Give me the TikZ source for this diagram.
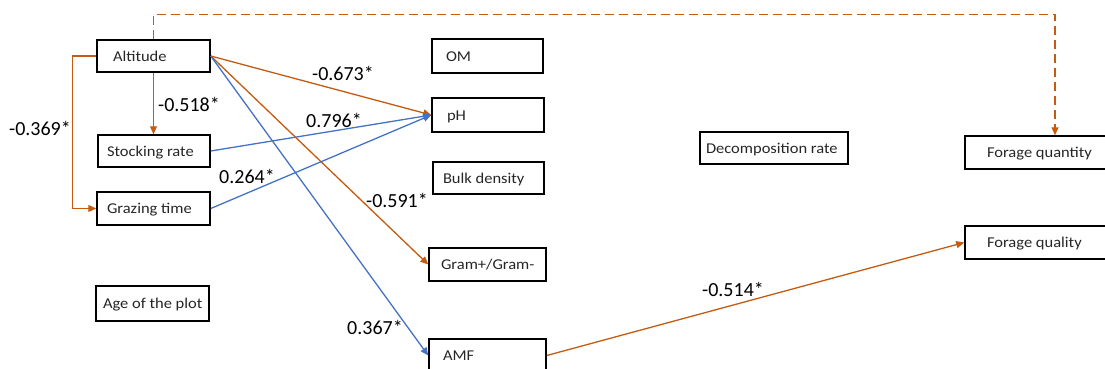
\documentclass[tikz,border=0pt]{standalone}
\usepackage{fontspec}
\setmainfont{Carlito}[FakeStretch=1.1]
\newfontfamily\coeffont{Carlito}
\usetikzlibrary{arrows.meta}
\definecolor{pathorange}{HTML}{C55A11}
\definecolor{pathblue}{HTML}{4472C4}
\definecolor{boxtext}{HTML}{262626}
\newcommand{\boxlabel}[2]{\makebox[#1pt][l]{#2}}
\tikzset{
  varbox/.style={draw=black, line width=1.5pt, rectangle, inner ysep=0pt,
    text height=13pt, text depth=2.5pt,
    text=boxtext, font=\fontsize{15}{17}\selectfont},
  coef/.style={font=\coeffont\fontsize{20}{22}\selectfont, text=black, inner sep=0pt},
  negpath/.style={draw=pathorange, line width=1.3pt, -{Triangle[length=8pt,width=7pt]}},
  pospath/.style={draw=pathblue, line width=1.3pt, -{Triangle[length=8pt,width=7pt]}},
}
\begin{document}
\begin{tikzpicture}[x=1pt, y=-1pt]
\useasboundingbox (0,0) rectangle (1105,369);
\clip (0,0) rectangle (1105,369);

% management and site variables
\node[varbox, minimum width=113pt, minimum height=32pt, inner xsep=16pt] (alt) at (153.5,56) {\boxlabel{81}{Altitude}};
\node[varbox, minimum width=112pt, minimum height=32pt, inner xsep=9pt] (sr) at (154,151) {\boxlabel{94}{Stocking rate}};
\node[varbox, minimum width=113pt, minimum height=33pt, inner xsep=10pt] (gt) at (153.5,208.5) {\boxlabel{93}{Grazing time}};
\node[varbox, minimum width=113pt, minimum height=35pt, inner xsep=7pt] (age) at (152.5,303.5) {\boxlabel{99}{Age of the plot}};

% soil variables
\node[varbox, minimum width=111pt, minimum height=34pt, inner xsep=14pt] (om) at (487.5,56) {\boxlabel{83}{OM}};
\node[varbox, minimum width=112pt, minimum height=34pt, inner xsep=15pt] (ph) at (488,115) {\boxlabel{82}{pH}};
\node[varbox, minimum width=111pt, minimum height=32pt, inner xsep=10pt] (bd) at (488.5,178) {\boxlabel{91}{Bulk density}};
\node[varbox, minimum width=117pt, minimum height=33pt, inner xsep=12pt] (gram) at (487.5,264.5) {\boxlabel{93}{Gram+/Gram-}};
\node[varbox, minimum width=117pt, minimum height=33pt, inner xsep=14pt] (amf) at (487.5,355.5) {\boxlabel{89}{AMF}};
\node[varbox, minimum width=148pt, minimum height=32pt, inner xsep=6pt] (dec) at (774,148) {\boxlabel{136}{Decomposition rate}};

% forage variables
\node[varbox, minimum width=180pt, minimum height=33pt, inner xsep=22pt] (fqn) at (1055,152.5) {\boxlabel{136}{Forage quantity}};
\node[varbox, minimum width=180pt, minimum height=33pt, inner xsep=22pt] (fql) at (1055,242.5) {\boxlabel{136}{Forage quality}};

% paths
\draw[negpath] (alt.south) -- (alt.south |- sr.north);
\draw[negpath] (alt.west) -- ++(-24,0) |- (gt.west);
\draw[negpath, dash pattern=on 9pt off 5pt] (alt.north) -- ++(0,-25) -| (fqn.north);
\draw[negpath] (alt.east) -- (ph.west);
\draw[negpath] (alt.east) -- (gram.west);
\draw[pospath] (alt.east) -- (amf.west);
\draw[pospath] (sr.east) -- (ph.west);
\draw[pospath] (gt.east) -- (ph.west);
\draw[negpath] (amf.east) -- (fql.west);

% path coefficients
\node[coef] (c1) at (189,104) {-0.518*};
\node[coef] (c2) at (40,128) {-0.369*};
\node[coef] (c3) at (247,176) {0.264*};
\node[coef] (c4) at (343,73) {-0.673*};
\node[coef] (c5) at (334,120) {0.796*};
\node[coef] (c6) at (397,200) {-0.591*};
\node[coef] (c7) at (375,327) {0.367*};
\node[coef] (c8) at (733,289) {-0.514*};
\end{tikzpicture}
\end{document}
